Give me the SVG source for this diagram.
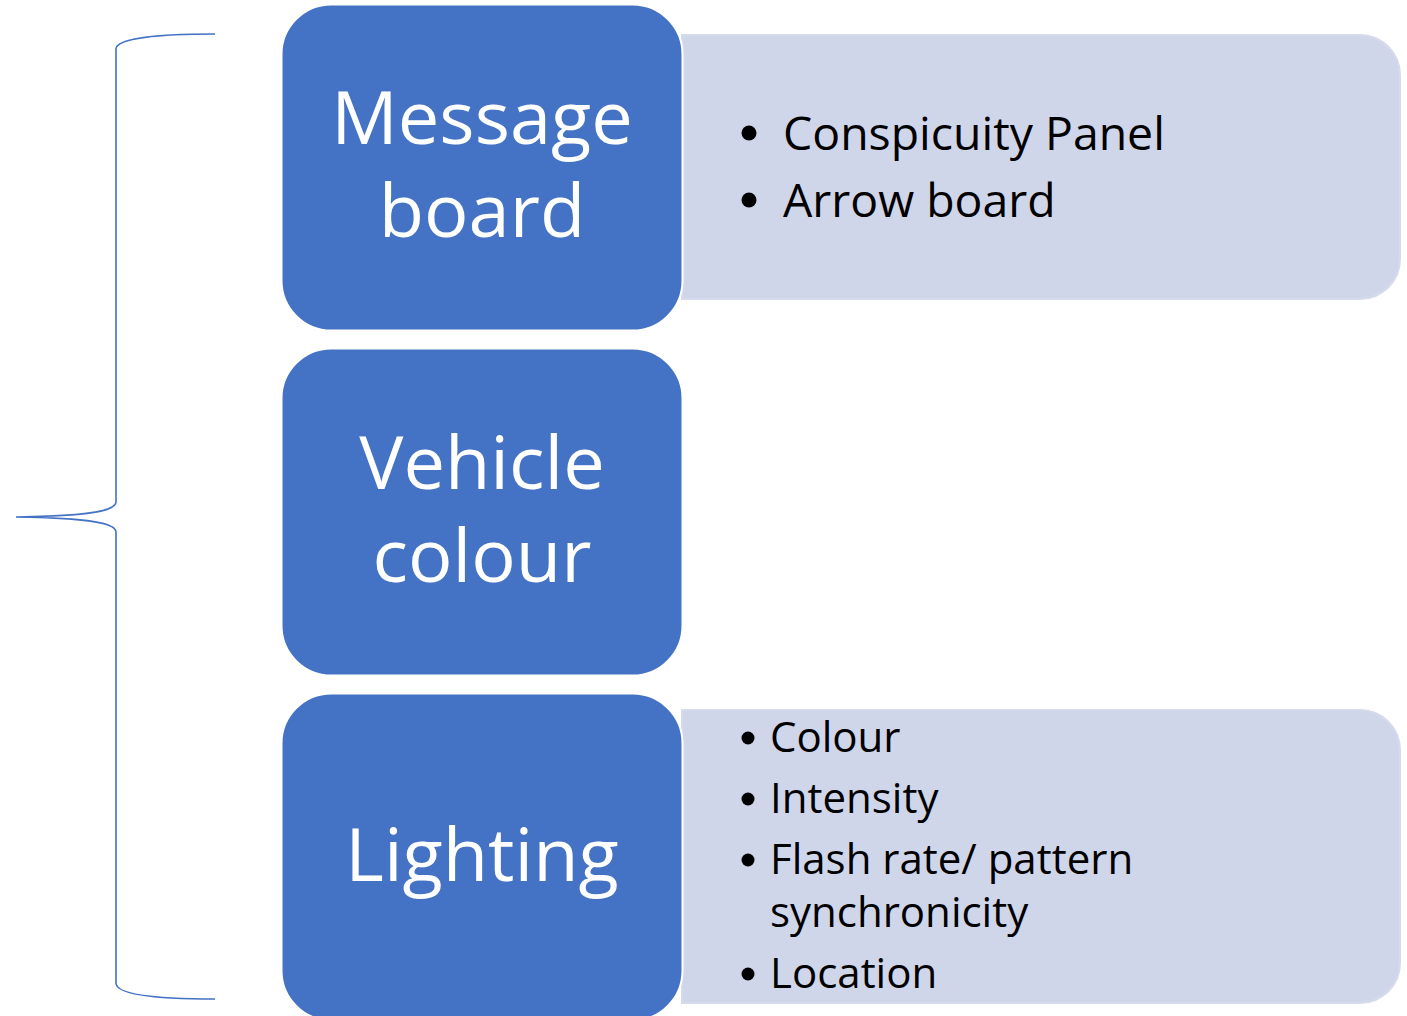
<svg xmlns="http://www.w3.org/2000/svg" width="1407" height="1016" viewBox="0 0 1407 1016">
<style>
.box{fill:#4472C4;stroke:#FFFFFF;stroke-width:2}
.panel{fill:#D0D6EA;stroke:#D6DBEC;stroke-width:2}
.big{font-family:"Open Sans","Noto Sans","Liberation Sans",sans-serif;font-size:74px;fill:#FFFFFF;text-anchor:middle}
.item{font-family:"Open Sans","Noto Sans","Liberation Sans",sans-serif;fill:#000000}
.t1{font-size:46.4px}
.t2{font-size:42px}
.brace{fill:none;stroke:#4472C4;stroke-width:1.6}
</style>
<rect width="1407" height="1016" fill="#FFFFFF"/>
<g id="connectors">
<path class="brace" d="M215,34 C160,34 116,38 116,49 L116,502 C116,511 90,516 16,517 C90,518 116,523 116,532 L116,983 C116,995 160,999 215,999"/>
</g>
<g id="panel-message">
<path class="panel" d="M682,35 L1360,35 A40,40 0 0 1 1400,75 L1400,259 A40,40 0 0 1 1360,299 L682,299 Z"/>
<circle cx="749" cy="133" r="7.5" fill="#000"/>
<text class="item t1" x="783" y="150">Conspicuity Panel</text>
<circle cx="749" cy="200" r="7.5" fill="#000"/>
<text class="item t1" x="783" y="217">Arrow board</text>
</g>
<g id="panel-lighting">
<path class="panel" d="M682,710 L1360,710 A40,40 0 0 1 1400,750 L1400,963 A40,40 0 0 1 1360,1003 L682,1003 Z"/>
<circle cx="748" cy="738" r="6.5" fill="#000"/>
<text class="item t2" x="770" y="752">Colour</text>
<circle cx="748" cy="799" r="6.5" fill="#000"/>
<text class="item t2" x="770" y="813">Intensity</text>
<circle cx="748" cy="860" r="6.5" fill="#000"/>
<text class="item t2" x="770" y="874">Flash rate/ pattern</text>
<text class="item t2" x="770" y="927">synchronicity</text>
<circle cx="748" cy="974" r="6.5" fill="#000"/>
<text class="item t2" x="770" y="988">Location</text>
</g>
<g id="node-message-board">
<rect class="box" x="281.5" y="4.5" width="401" height="326" rx="50" ry="50"/>
<text class="big" x="482" y="144">Message</text>
<text class="big" x="482" y="237">board</text>
</g>
<g id="node-vehicle-colour">
<rect class="box" x="281.5" y="348.5" width="401" height="327" rx="50" ry="50"/>
<text class="big" x="482" y="489">Vehicle</text>
<text class="big" x="482" y="582">colour</text>
</g>
<g id="node-lighting">
<rect class="box" x="281.5" y="693.5" width="401" height="327" rx="50" ry="50"/>
<text class="big" x="482" y="881">Lighting</text>
</g>
</svg>
